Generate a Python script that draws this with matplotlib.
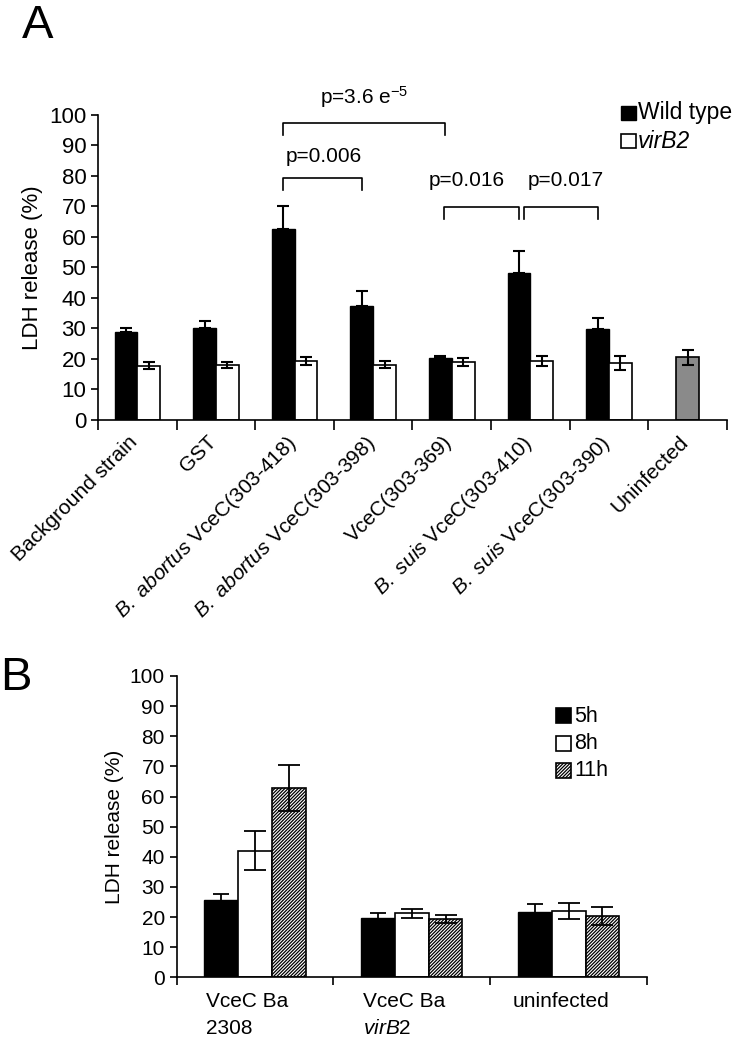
import matplotlib
matplotlib.use("Agg")
from matplotlib import pyplot as plt
import numpy as np

plt.rcParams["font.family"] = ["Liberation Sans", "DejaVu Sans"]
plt.rcParams["mathtext.fontset"] = "custom"
plt.rcParams["mathtext.rm"] = "Liberation Sans"
plt.rcParams["mathtext.it"] = "Liberation Sans:italic"
plt.rcParams["hatch.linewidth"] = 0.9

# Panel A data
a_labels = [
    "Background strain",
    "GST",
    r"$\it{B.\ abortus}$ VceC(303-418)",
    r"$\it{B.\ abortus}$ VceC(303-398)",
    "VceC(303-369)",
    r"$\it{B.\ suis}$ VceC(303-410)",
    r"$\it{B.\ suis}$ VceC(303-390)",
    "Uninfected",
]
a_wt = [28.7, 30.1, 62.7, 37.4, 20.3, 48.2, 29.9]
a_wt_err = [1.3, 2.2, 7.5, 4.9, 0.7, 7.3, 3.7]
a_virb2 = [17.8, 18.1, 19.3, 18.1, 18.9, 19.3, 18.8]
a_virb2_err = [1.2, 1.0, 1.4, 1.2, 1.3, 1.6, 2.3]
a_uninf = 20.6
a_uninf_err = 2.5

# Panel B data
b_labels = ["VceC Ba\n2308", "VceC Ba\n$\\it{virB2}$", "uninfected"]
b_5h = [25.8, 19.8, 21.8]
b_5h_err = [2.0, 1.4, 2.5]
b_8h = [42.0, 21.2, 22.0]
b_8h_err = [6.5, 1.5, 2.6]
b_11h = [62.7, 19.3, 20.5]
b_11h_err = [7.6, 1.4, 3.0]

fig = plt.figure(figsize=(7.32, 10.5), dpi=100)

# ---------------- Panel A ----------------
ax = fig.add_axes([0.134, 0.6, 0.859, 0.2905])
x = np.arange(len(a_wt))
w = 0.29
off = 0.145
ax.bar(x - off, a_wt, w, color="black", edgecolor="black", linewidth=1)
ax.errorbar(x - off, a_wt, yerr=[np.zeros(len(a_wt)), a_wt_err], fmt="none",
            ecolor="black", elinewidth=1.5, capsize=4, capthick=1.5)
ax.bar(x + off, a_virb2, w, color="white", edgecolor="black", linewidth=1.2)
ax.errorbar(x + off, a_virb2, yerr=a_virb2_err, fmt="none",
            ecolor="black", elinewidth=1.5, capsize=4, capthick=1.5)
xu = len(a_wt)
ax.bar([xu], [a_uninf], w, color="#8a8a8a", edgecolor="black", linewidth=1.2)
ax.errorbar([xu], [a_uninf], yerr=[a_uninf_err], fmt="none",
            ecolor="black", elinewidth=1.5, capsize=4, capthick=1.5)

ax.set_xlim(-0.5, len(a_labels) - 0.5)
ax.set_ylim(0, 100)
ax.set_yticks(range(0, 101, 10))
ax.tick_params(axis="y", labelsize=16, length=5, width=1.2)
ax.set_xticks(np.arange(len(a_labels) + 1) - 0.5)
ax.set_xticklabels([])
ax.tick_params(axis="x", length=7, width=1.2)
for i, lab in enumerate(a_labels):
    ax.text(i - 0.12, -4, lab, rotation=45, ha="right", va="top",
            rotation_mode="anchor", fontsize=15)
ax.spines["top"].set_visible(False)
ax.spines["right"].set_visible(False)
ax.spines["left"].set_linewidth(1.2)
ax.spines["bottom"].set_linewidth(1.2)
ax.set_ylabel("LDH release (%)", fontsize=16, labelpad=4)


def bracket(x1, x2, y, drop, text, ty, tx):
    ax.plot([x1, x1, x2, x2], [y - drop, y, y, y - drop], color="black",
            lw=1.2, clip_on=False)
    ax.text(tx, ty, text, ha="center", va="center", fontsize=15)


bracket(2 - off, 4 - 0.08, 97.4, 4, "p=3.6 e$^{-5}$", 106, 2.88)
bracket(2 - off, 3 - off, 79.5, 4, "p=0.006", 86.5, 2.37)
bracket(4 - 0.1, 5 - off, 69.7, 3.8, "p=0.016", 78.5, 4.19)
bracket(5 - off + 0.06, 6 - off, 69.7, 3.8, "p=0.017", 78.5, 5.45)

# legend A
fig.patches.append(plt.Rectangle((621 / 732, 1 - 120 / 1050), 15 / 732, 14 / 1050,
                                 transform=fig.transFigure, facecolor="black",
                                 edgecolor="black", lw=1))
fig.patches.append(plt.Rectangle((621 / 732, 1 - 148 / 1050), 15 / 732, 14 / 1050,
                                 transform=fig.transFigure, facecolor="white",
                                 edgecolor="black", lw=1.2))
fig.text(638 / 732, 1 - 113 / 1050, "Wild type", fontsize=16.5, va="center")
fig.text(638 / 732, 1 - 141 / 1050, "virB2", fontsize=16.5, va="center",
         style="italic")

fig.text(22 / 732, 1 - 38 / 1050, "A", fontsize=34)

# ---------------- Panel B ----------------
bx = fig.add_axes([0.2413, 0.0692, 0.6427, 0.287])
xb = np.arange(len(b_labels))
wb = 0.215
bx.bar(xb - wb, b_5h, wb, color="black", edgecolor="black", linewidth=1)
bx.errorbar(xb - wb, b_5h, yerr=b_5h_err, fmt="none", ecolor="black",
            elinewidth=1.3, capsize=6, capthick=1.3)
bx.bar(xb, b_8h, wb, color="white", edgecolor="black", linewidth=1.2)
bx.errorbar(xb, b_8h, yerr=b_8h_err, fmt="none", ecolor="black",
            elinewidth=1.3, capsize=8, capthick=1.3)
bx.bar(xb + wb, b_11h, wb, color="white", edgecolor="black", linewidth=1.2,
       hatch="//////////")
bx.errorbar(xb + wb, b_11h, yerr=b_11h_err, fmt="none", ecolor="black",
            elinewidth=1.3, capsize=8, capthick=1.3)

bx.set_xlim(-0.5, len(b_labels) - 0.5)
bx.set_ylim(0, 100)
bx.set_yticks(range(0, 101, 10))
bx.tick_params(axis="y", labelsize=15, length=5, width=1.2)
bx.set_xticks(np.arange(len(b_labels) + 1) - 0.5)
bx.set_xticklabels([])
bx.tick_params(axis="x", length=6, width=1.2)
for i, lab in enumerate(b_labels):
    bx.text(i - 0.05, -5, lab, ha="center", va="top", fontsize=15,
            multialignment="left", linespacing=1.5)
bx.spines["top"].set_visible(False)
bx.spines["right"].set_visible(False)
bx.spines["left"].set_linewidth(1.2)
bx.spines["bottom"].set_linewidth(1.2)
bx.set_ylabel("LDH release (%)", fontsize=15, labelpad=4)

# legend B
for k, (lab, fc, ht) in enumerate([("5h", "black", None), ("8h", "white", None),
                                   ("11h", "white", "//////////")]):
    top = 708 + k * 27.5
    fig.patches.append(plt.Rectangle((556 / 732, 1 - (top + 15) / 1050), 15 / 732,
                                     15 / 1050, transform=fig.transFigure,
                                     facecolor=fc, edgecolor="black", lw=1.2,
                                     hatch=ht))
    fig.text(574 / 732, 1 - (top + 8) / 1050, lab, fontsize=15.5, va="center")

fig.text(0 / 732, 1 - 690 / 1050, "B", fontsize=34)

fig.savefig("out.png", dpi=100)
